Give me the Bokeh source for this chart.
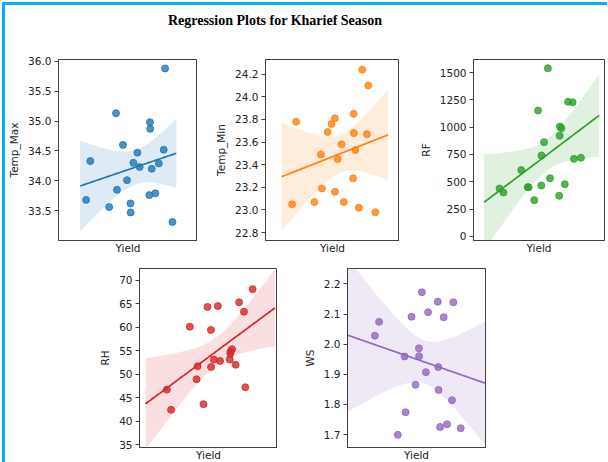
import numpy as np
from bokeh.plotting import figure
from bokeh.layouts import row, column
from bokeh.models import Div, Range1d, FixedTicker, PrintfTickFormatter
from bokeh.embed import file_html
from bokeh.resources import INLINE

# ---- data ----
YIELD = [20.1, 23.1, 36.7, 41.6, 42.3, 46.6, 49.5, 52.0, 52.1, 54.1, 57.0,
         58.6, 65.6, 66.0, 66.2, 67.3, 69.9, 72.4, 75.9, 76.9, 82.2]
TEMP_MAX = [33.68, 34.33, 33.56, 35.13, 33.85, 34.60, 34.01, 33.62, 33.47, 34.30, 34.47,
            34.23, 33.76, 34.98, 34.87, 34.20, 33.79, 34.29, 34.52, 35.88, 33.31]
TEMP_MIN = [23.05, 23.78, 23.07, 23.49, 23.19, 23.69, 23.76, 23.81, 23.16, 23.45, 23.58,
            23.07, 23.28, 23.85, 23.68, 23.53, 23.02, 24.24, 23.67, 24.10, 22.98]
RF = [439, 402, 607, 451, 450, 332, 1152, 466, 741, 863, 1539,
      533, 372, 921, 1006, 990, 478, 1232, 1228, 710, 720]
RH = [46.7, 42.4, 60.1, 48.9, 51.7, 43.6, 64.3, 59.4, 51.5, 53.1, 64.5,
      52.8, 53.1, 54.3, 54.8, 55.3, 52.0, 65.3, 63.3, 47.2, 68.1]
WS = [2.028, 2.074, 1.699, 1.959, 1.774, 2.091, 1.865, 1.986, 1.960, 2.172, 1.907,
      2.106, 2.141, 1.924, 1.848, 1.725, 2.089, 1.734, 1.814, 2.139, 1.721]

# y-axis limits and ticks
YLIM_TMAX = (33.0, 36.03)
YLIM_TMIN = (22.73, 24.33)
YLIM_RF = (-37, 1619)
YLIM_RH = (34.37, 72.5)
YLIM_WS = (1.657, 2.251)
TICKS_TMAX = [33.5, 34.0, 34.5, 35.0, 35.5, 36.0]
TICKS_TMIN = [22.8, 23.0, 23.2, 23.4, 23.6, 23.8, 24.0, 24.2]
TICKS_RF = [0, 250, 500, 750, 1000, 1250, 1500]
TICKS_RH = [35, 40, 45, 50, 55, 60, 65, 70]
TICKS_WS = [1.7, 1.8, 1.9, 2.0, 2.1, 2.2]

TITLE = "Regression Plots for Kharief Season"
COLORS = ["#1f77b4", "#ff7f0e", "#2ca02c", "#d62728", "#9467bd"]

FONT = "DejaVu Sans"
FS = "10.5px"
SPINE = "#404040"


def panel(yvals, name, color, ylim, ticks, fmt, fw, fh, bl, bt, bb, br, ext):
    x = np.array(YIELD, dtype=float)
    y = np.array(yvals, dtype=float)
    span = x.max() - x.min()
    xlo, xhi = x.min() - 0.32 * span, x.max() + 0.29 * span
    p = figure(frame_width=fw, frame_height=fh,
               x_range=Range1d(xlo, xhi), y_range=Range1d(*ylim),
               output_backend="svg", toolbar_location=None,
               min_border_left=bl, min_border_top=bt,
               min_border_bottom=bb, min_border_right=br,
               background_fill_color="white", border_fill_color="white")
    p.grid.visible = False
    p.outline_line_color = SPINE
    p.outline_line_width = 1
    p.outline_line_alpha = 1

    # regression with 95% CI
    n = len(x)
    b, a = np.polyfit(x, y, 1)
    xm = x.mean()
    sxx = ((x - xm) ** 2).sum()
    s = np.sqrt(((y - (a + b * x)) ** 2).sum() / (n - 2))
    tval = 2.093
    xs = np.linspace(max(xlo, x.min() - ext[0] * span), min(xhi, x.max() + ext[1] * span), 120)
    yh = a + b * xs
    se = s * np.sqrt(1.0 / n + (xs - xm) ** 2 / sxx)
    p.varea(x=xs, y1=yh - tval * se, y2=yh + tval * se, fill_color=color, fill_alpha=0.15)
    p.scatter(x, y, size=7, fill_color=color, line_color=color, fill_alpha=0.8, line_alpha=0.8)
    p.line(xs, yh, line_color=color, line_width=1.7)

    # axes
    ya = p.yaxis[0]
    ya.ticker = FixedTicker(ticks=ticks)
    ya.formatter = PrintfTickFormatter(format=fmt)
    ya.axis_label = name
    ya.axis_label_text_font = FONT
    ya.axis_label_text_font_size = FS
    ya.axis_label_text_font_style = "normal"
    ya.axis_label_text_color = "#222222"
    ya.axis_label_standoff = 5
    ya.major_label_text_font = FONT
    ya.major_label_text_font_size = FS
    ya.major_label_text_color = "#222222"
    ya.major_label_standoff = 3
    ya.major_tick_out = 4
    ya.major_tick_in = 0
    ya.minor_tick_line_color = None
    ya.major_tick_line_color = SPINE
    ya.axis_line_color = SPINE

    xa = p.xaxis[0]
    xa.ticker = FixedTicker(ticks=[])
    xa.major_tick_line_color = None
    xa.minor_tick_line_color = None
    xa.major_tick_out = 0
    xa.major_label_standoff = 0
    xa.axis_label = "Yield"
    xa.axis_label_text_font = FONT
    xa.axis_label_text_font_size = FS
    xa.axis_label_text_font_style = "normal"
    xa.axis_label_text_color = "#222222"
    xa.axis_label_standoff = 1
    xa.axis_line_color = SPINE
    return p


p1 = panel(TEMP_MAX, "Temp_Max", COLORS[0], YLIM_TMAX, TICKS_TMAX, "%.1f",
           139, 181, 48, 12, 24, 0, (0.07, 0.045))
p2 = panel(TEMP_MIN, "Temp_Min", COLORS[1], YLIM_TMIN, TICKS_TMIN, "%.1f",
           134, 181, 68, 12, 24, 0, (0.127, 0.153))
p3 = panel(RF, "RF", COLORS[2], YLIM_RF, TICKS_RF, "%d",
           131, 181, 74, 12, 24, 3, (0.19, 0.225))
p4 = panel(RH, "RH", COLORS[3], YLIM_RH, TICKS_RH, "%d",
           138, 179, 134, 4, 18, 0, (0.25, 0.26))
p5 = panel(WS, "WS", COLORS[4], YLIM_WS, TICKS_WS, "%.1f",
           138, 179, 70, 4, 18, 10, (0.4, 0.4))

title = Div(text=TITLE, width=530, height=32,
            styles={"text-align": "center", "font-family": "Liberation Serif",
                    "font-weight": "bold", "font-size": "14px", "color": "black",
                    "padding-top": "1px"})

root = column(title, row(p1, p2, p3), row(p4, p5),
              styles={"margin": "2px 0px 0px 2px",
                      "border-left": "3px solid #00b4f0",
                      "border-top": "3px solid #00b4f0",
                      "background-color": "white"})

open("out.html", "w").write(file_html(root, INLINE))
